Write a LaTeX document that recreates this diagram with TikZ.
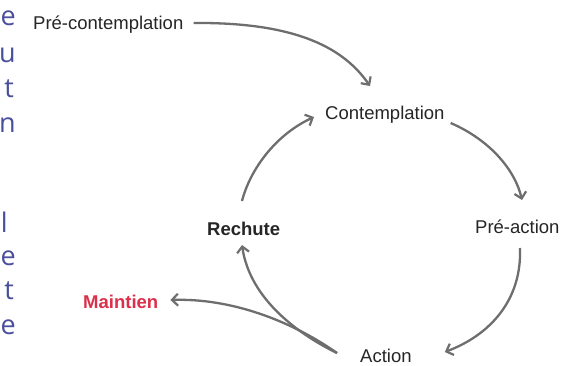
\documentclass[tikz,border=0pt]{standalone}
\usepackage{fontspec}
\setmainfont{Liberation Sans}
\newfontfamily\sidefont{Open Sans}
\usetikzlibrary{arrows.meta}
\definecolor{txt}{HTML}{262626}
\definecolor{arr}{HTML}{6E6E6E}
\definecolor{maint}{HTML}{DC2F4B}
\definecolor{side}{HTML}{4A4F9C}
\tikzset{
  lab/.style={font=\fontsize{18.5}{20}\selectfont, text=txt, inner sep=0pt, anchor=base west},
  blab/.style={lab, font=\fontsize{18.5}{20}\selectfont\bfseries},
  sidel/.style={font=\sidefont\fontsize{27}{30}\selectfont, text=side, inner sep=0pt, anchor=base east},
  conn/.style={draw=arr, line width=2.3pt, -{Straight Barb[length=6pt,width=12pt,line width=2.2pt]}}
}
\begin{document}
\begin{tikzpicture}[x=1pt,y=-1pt]
\useasboundingbox[fill=white] (0,0) rectangle (582,365);
% side letters
\node[sidel] (s1) at (16,25) {e};
\node[sidel] (s2) at (16,62) {u};
\node[sidel] (s3) at (14,97) {t};
\node[sidel] (s4) at (16,132) {n};
\node[sidel] (s5) at (8,232) {l};
\node[sidel] (s6) at (16,265) {e};
\node[sidel] (s7) at (14,299) {t};
\node[sidel] (s8) at (16,334) {e};
% labels
\node[lab] (pc) at (33,29) {Pré-contemplation};
\node[lab] (con) at (325,119) {Contemplation};
\node[lab] (pa) at (475,233) {Pré-action};
\node[lab] (act) at (360,362) {Action};
\node[blab] (re) at (207,235) {Rechute};
\node[blab, text=maint] (ma) at (83,308) {Maintien};
% connectors
\draw[conn] ([shift={(10,-6)}]pc.base east) .. controls (300,22) and (345,50) .. ([shift={(45,-33)}]con.base west);
\draw[conn] ([shift={(6,4)}]con.base east) .. controls (490,140) and (515,170) .. ([shift={(47,-33)}]pa.base west);
\draw[conn] ([shift={(45,15)}]pa.base west) .. controls (522,300) and (490,335) .. ([shift={(33,-10)}]act.base east);
\draw[conn] ([shift={(-23,-9)}]act.base west) .. controls (290,320) and (230,298) .. ([shift={(12,-8)}]ma.base east);
\draw[conn] ([shift={(-23,-9)}]act.base west) .. controls (300,335) and (250,300) .. ([shift={(35,10)}]re.base west);
\draw[conn] ([shift={(35,-34)}]re.base west) .. controls (250,170) and (275,135) .. ([shift={(-11,-2)}]con.base west);
\end{tikzpicture}
\end{document}
